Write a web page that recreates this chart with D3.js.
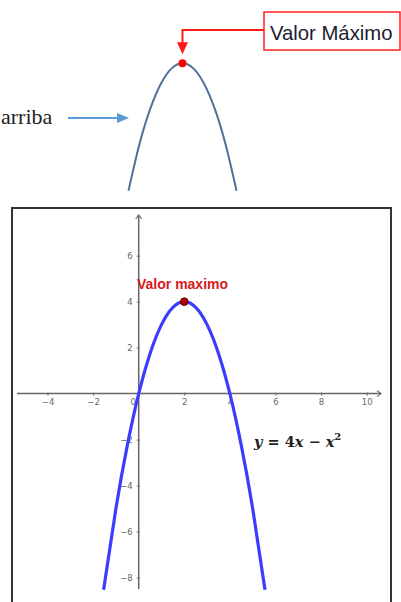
<!DOCTYPE html>
<html>
<head>
<meta charset="utf-8">
<script src="https://cdn.jsdelivr.net/npm/d3@7"></script>
<style>
  html, body { margin: 0; padding: 0; background: #fff; }
  svg { display: block; }
</style>
</head>
<body>
<svg id="chart" width="401" height="602"></svg>
<script>
// Sample points of y = 4x − x² (x, y pairs)
const curveX = [-1.54, -1, -0.5, 0, 0.5, 1, 1.5, 2, 2.5, 3, 3.5, 4, 4.5, 5, 5.54];
const curveY = [-8.53, -5, -2.25, 0, 1.75, 3, 3.75, 4, 3.75, 3, 1.75, 0, -2.25, -5, -8.53];

// Vertex (maximum)
const vertex = { x: 2, y: 4 };

// Axis ticks
const xTicks = [-4, -2, 0, 2, 4, 6, 8, 10];
const yTicks = [-8, -6, -4, -2, 2, 4, 6];

// Texts
const sketchTitle = "Valor Máximo";
const sketchSide = "arriba";
const maxLabel = "Valor maximo";

const svg = d3.select("#chart");
const points = curveX.map((x, i) => ({ x, y: curveY[i] }));

/* ---------- Sketch on top ---------- */
const xs = d3.scaleLinear().domain([-0.5, 4.5]).range([128.5, 236.5]);
const ys = d3.scaleLinear().domain([-2.25, 4]).range([190.7, 63.3]);
const sketchPts = points.filter(p => p.x >= -0.5 && p.x <= 4.5);

svg.append("path")
  .datum(sketchPts)
  .attr("fill", "none")
  .attr("stroke", "#4d719a")
  .attr("stroke-width", 2)
  .attr("d", d3.line().x(d => xs(d.x)).y(d => ys(d.y)).curve(d3.curveNatural));

// callout box
svg.append("rect")
  .attr("x", 264).attr("y", 12).attr("width", 136).attr("height", 38)
  .attr("fill", "#fff").attr("stroke", "#ff2020").attr("stroke-width", 1.5);
svg.append("text")
  .attr("x", 270).attr("y", 40)
  .attr("font-family", "'Liberation Sans', Arial, sans-serif")
  .attr("font-size", 20.3)
  .attr("fill", "#1c1c30")
  .text(sketchTitle);

// connector from box to vertex
const vx = xs(vertex.x), vy = ys(vertex.y);
svg.append("path")
  .attr("d", `M264,30 H${vx} V${vy - 20}`)
  .attr("fill", "none").attr("stroke", "#ff1a1a").attr("stroke-width", 2);
svg.append("path")
  .attr("d", `M${vx - 5.5},${vy - 21} L${vx + 5.5},${vy - 21} L${vx},${vy - 9} Z`)
  .attr("fill", "#ff1a1a");
svg.append("circle")
  .attr("cx", vx).attr("cy", vy).attr("r", 4)
  .attr("fill", "#ff0000");

// side note with arrow
svg.append("text")
  .attr("x", 1).attr("y", 123.5)
  .attr("font-family", "'Liberation Serif', 'Times New Roman', serif")
  .attr("font-size", 22)
  .attr("fill", "#222")
  .text(sketchSide);
svg.append("line")
  .attr("x1", 68).attr("x2", 119).attr("y1", 118).attr("y2", 118)
  .attr("stroke", "#5b9bd5").attr("stroke-width", 2);
svg.append("path")
  .attr("d", "M117,113 L129,118 L117,123 Z")
  .attr("fill", "#5b9bd5");

/* ---------- Graph below ---------- */
// frame
svg.append("path")
  .attr("d", "M12,603 V208 H391 V603")
  .attr("fill", "none").attr("stroke", "#333").attr("stroke-width", 2);

const x = d3.scaleLinear().domain([-5.34, 10.63]).range([17, 381]);
const y = d3.scaleLinear().domain([-8.5, 7.77]).range([589, 215]);

const axisColor = "#666";

// axis lines with arrows
svg.append("line")
  .attr("x1", x(-5.34)).attr("x2", x(10.63)).attr("y1", y(0)).attr("y2", y(0))
  .attr("stroke", axisColor).attr("stroke-width", 1.5);
svg.append("path")
  .attr("d", `M${x(10.63) - 4},${y(0) - 3} L${x(10.63)},${y(0)} L${x(10.63) - 4},${y(0) + 3}`)
  .attr("fill", "none").attr("stroke", axisColor).attr("stroke-width", 1.2);
svg.append("line")
  .attr("x1", x(0)).attr("x2", x(0)).attr("y1", y(7.77)).attr("y2", y(-8.5))
  .attr("stroke", axisColor).attr("stroke-width", 1.5);
svg.append("path")
  .attr("d", `M${x(0) - 3},${y(7.77) + 4} L${x(0)},${y(7.77)} L${x(0) + 3},${y(7.77) + 4}`)
  .attr("fill", "none").attr("stroke", axisColor).attr("stroke-width", 1.2);

// ticks and labels
const xAxis = svg.append("g")
  .attr("transform", `translate(0,${y(0)})`)
  .call(d3.axisBottom(x).tickValues(xTicks).tickSize(3).tickPadding(2));
xAxis.select(".domain").remove();
xAxis.selectAll(".tick line").attr("stroke", axisColor).attr("y1", -1).attr("y2", 2);
xAxis.selectAll(".tick text")
  .attr("font-family", "'DejaVu Sans', sans-serif")
  .attr("font-size", 8.5)
  .attr("fill", "#666");
xAxis.selectAll(".tick").filter(d => d === 0).select("line").remove();
xAxis.selectAll(".tick").filter(d => d === 0).select("text").attr("x", -6);

const yAxis = svg.append("g")
  .attr("transform", `translate(${x(0)},0)`)
  .call(d3.axisLeft(y).tickValues(yTicks).tickSize(3).tickPadding(3));
yAxis.select(".domain").remove();
yAxis.selectAll(".tick line").attr("stroke", axisColor).attr("x1", 1).attr("x2", -2);
yAxis.selectAll(".tick text")
  .attr("font-family", "'DejaVu Sans', sans-serif")
  .attr("font-size", 8.5)
  .attr("fill", "#666");

// parabola
svg.append("path")
  .datum(points)
  .attr("fill", "none")
  .attr("stroke", "#3c3cff")
  .attr("stroke-width", 3.2)
  .attr("d", d3.line().x(d => x(d.x)).y(d => y(d.y)).curve(d3.curveNatural));

// maximum point and label
svg.append("circle")
  .attr("cx", x(vertex.x)).attr("cy", y(vertex.y)).attr("r", 3.8)
  .attr("fill", "#b80000").attr("stroke", "#5a0000").attr("stroke-width", 1);
svg.append("text")
  .attr("x", 137).attr("y", 288.5)
  .attr("font-family", "'Liberation Sans', Arial, sans-serif")
  .attr("font-weight", "bold")
  .attr("font-size", 14)
  .attr("fill", "#d7191c")
  .text(maxLabel);

// equation
const eq = svg.append("text")
  .attr("x", 254).attr("y", 447)
  .attr("font-family", "'DejaVu Serif', 'Liberation Serif', serif")
  .attr("font-weight", "bold")
  .attr("font-size", 14.5)
  .attr("fill", "#222");
eq.append("tspan").attr("font-style", "italic").text("y");
eq.append("tspan").text("  = 4");
eq.append("tspan").attr("font-style", "italic").text("x");
eq.append("tspan").text("  −  ");
eq.append("tspan").attr("font-style", "italic").text("x");
eq.append("tspan").attr("dy", -7).attr("font-size", 10).text("2");
</script>
</body>
</html>
